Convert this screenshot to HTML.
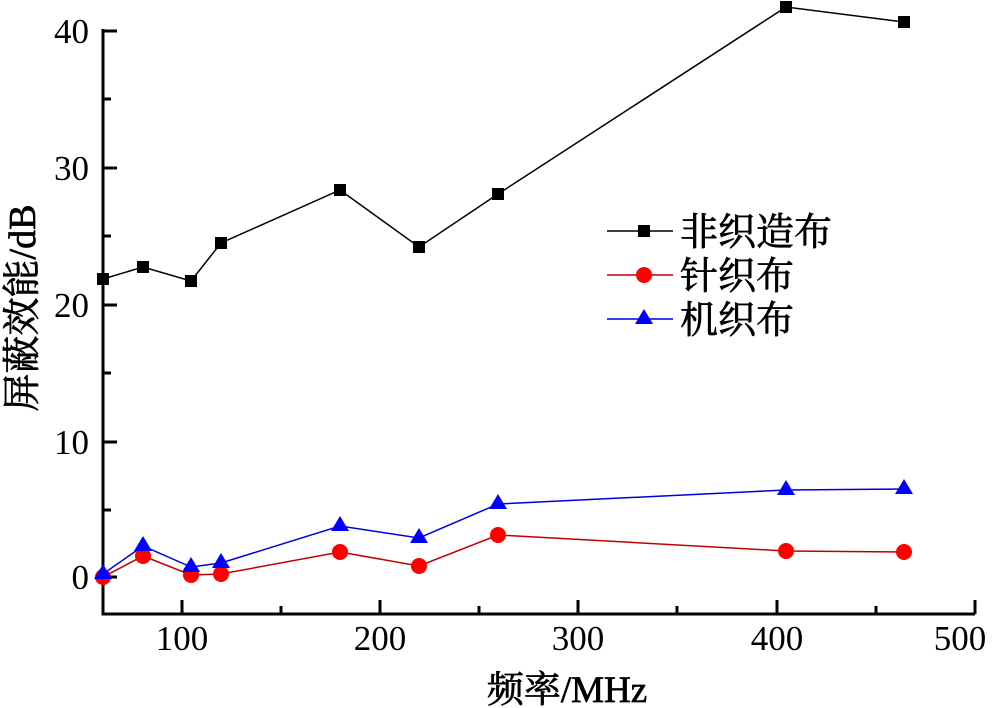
<!DOCTYPE html>
<html><head><meta charset="utf-8"><style>body{margin:0;background:#fff}svg{display:block}text{font-family:"Liberation Serif","Noto Serif CJK SC",serif;fill:#000}.c{stroke:#000;stroke-width:0.7}</style></head><body>
<svg width="1000" height="708" viewBox="0 0 1000 708">
<g stroke="#000" stroke-width="3" fill="none">
<path d="M103,29 V614 H975"/>
<path d="M103,31h14M103,168h14M103,305h14M103,442h14M103,577h14M103,99h8M103,236h8M103,373h8M103,510h8"/>
<path d="M182,614v-14M380,614v-14M578,614v-14M777,614v-14M975,614v-14M281,614v-8M479,614v-8M677,614v-8M876,614v-8"/>
</g>
<g font-size="35" text-anchor="end">
<text x="89" y="43">40</text><text x="89" y="180">30</text><text x="89" y="317">20</text><text x="89" y="454">10</text><text x="89" y="589">0</text>
</g>
<g font-size="35" text-anchor="middle">
<text x="182" y="650">100</text><text x="380" y="650">200</text><text x="578" y="650">300</text><text x="777" y="650">400</text><text x="960" y="650">500</text>
</g>
<text x="567" y="702" font-size="37" text-anchor="middle" class="c">频率/MHz</text>
<text transform="translate(35,308) rotate(-90)" font-size="38" text-anchor="middle" class="c">屏蔽效能/dB</text>
<polyline fill="none" stroke="#000" stroke-width="1.5" points="103,279 143,267 191,281 221,243 340,190 419,247 498,194 786,7 904,22"/>
<g fill="#000">
<rect x="97" y="273" width="12" height="12"/><rect x="137" y="261" width="12" height="12"/><rect x="185" y="275" width="12" height="12"/><rect x="215" y="237" width="12" height="12"/><rect x="334" y="184" width="12" height="12"/><rect x="413" y="241" width="12" height="12"/><rect x="492" y="188" width="12" height="12"/><rect x="780" y="1" width="12" height="12"/><rect x="898" y="16" width="12" height="12"/>
</g>
<polyline fill="none" stroke="#0000e0" stroke-width="1.5" points="103,574 143,546 191,567 221,563 340,526 419,538 498,504 786,490 904,489"/>
<polyline fill="none" stroke="#c00000" stroke-width="1.5" points="103,577 143,556 191,575 221,574 340,552 419,566 498,535 786,551 904,552"/>
<g fill="#f00">
<circle cx="103" cy="577" r="8"/><circle cx="143" cy="556" r="8"/><circle cx="191" cy="575" r="8"/><circle cx="221" cy="574" r="8"/><circle cx="340" cy="552" r="8"/><circle cx="419" cy="566" r="8"/><circle cx="498" cy="535" r="8"/><circle cx="786" cy="551" r="8"/><circle cx="904" cy="552" r="8"/>
</g>
<g fill="#00f">
<path d="M103,564l9,15h-18z"/><path d="M143,536l9,15h-18z"/><path d="M191,557l9,15h-18z"/><path d="M221,553l9,15h-18z"/><path d="M340,516l9,15h-18z"/><path d="M419,528l9,15h-18z"/><path d="M498,494l9,15h-18z"/><path d="M786,480l9,15h-18z"/><path d="M904,479l9,15h-18z"/>
</g>
<line x1="607" y1="231" x2="673" y2="231" stroke="#000" stroke-width="1.5"/>
<rect x="638" y="225" width="12" height="12" fill="#000"/>
<line x1="607" y1="275" x2="673" y2="275" stroke="#c00000" stroke-width="1.5"/>
<circle cx="644" cy="275" r="8" fill="#f00"/>
<line x1="607" y1="319" x2="673" y2="319" stroke="#0000e0" stroke-width="1.5"/>
<path d="M644,309l9,15h-18z" fill="#00f"/>
<g font-size="38" class="c">
<text x="680" y="245">非织造布</text><text x="680" y="289">针织布</text><text x="680" y="333">机织布</text>
</g>
</svg>
</body></html>
